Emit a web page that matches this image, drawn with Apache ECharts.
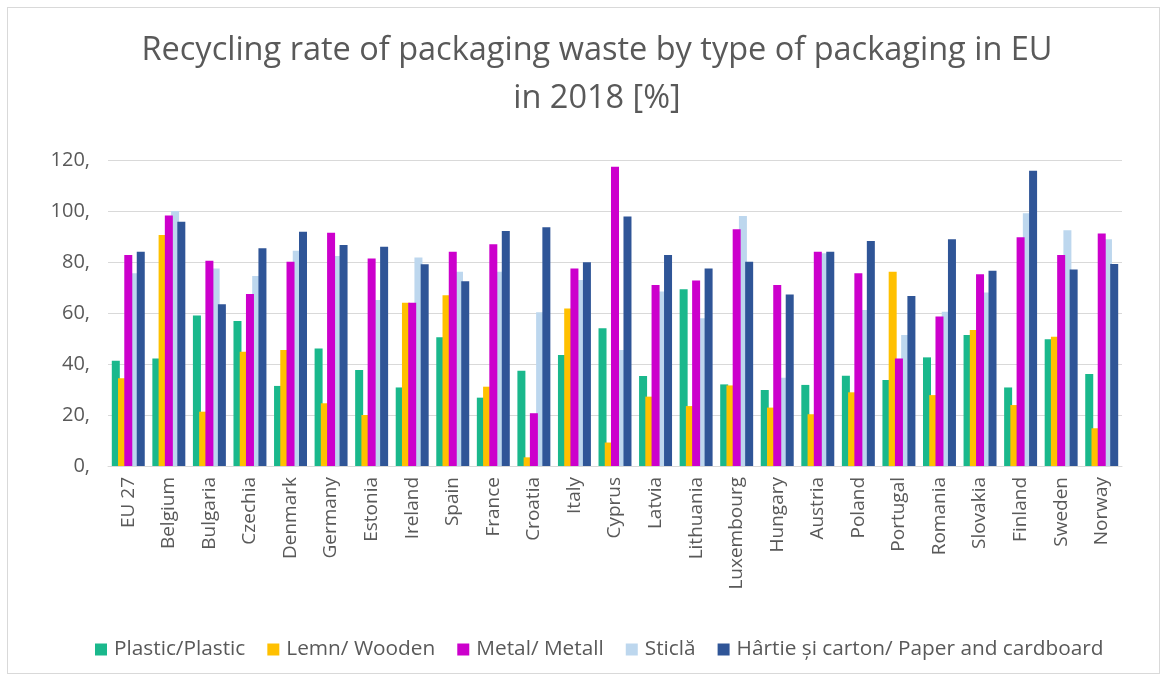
<!DOCTYPE html>
<html>
<head>
<meta charset="utf-8">
<script src="https://cdn.jsdelivr.net/npm/echarts@6/dist/echarts.min.js"></script>
<style>
  html, body { margin: 0; padding: 0; background: #ffffff; }
  #frame { position: absolute; left: 7px; top: 7px; width: 1153px; height: 667px; border: 1px solid #d9d9d9; box-sizing: border-box; }
  #chart { position: absolute; left: 0; top: 0; width: 1170px; height: 682px; }
</style>
</head>
<body>
<div id="frame"></div>
<div id="chart"></div>
<script>
// Countries on the category axis
const countries = ['EU 27', 'Belgium', 'Bulgaria', 'Czechia', 'Denmark', 'Germany', 'Estonia', 'Ireland',
  'Spain', 'France', 'Croatia', 'Italy', 'Cyprus', 'Latvia', 'Lithuania', 'Luxembourg', 'Hungary',
  'Austria', 'Poland', 'Portugal', 'Romania', 'Slovakia', 'Finland', 'Sweden', 'Norway'];

// Recycling rate (%) per packaging type
const plastic = [41.3, 42.2, 59.0, 56.9, 31.4, 46.1, 37.6, 30.8, 50.5, 26.8, 37.4, 43.5, 54.0, 35.3, 69.3, 32.0, 29.8, 31.8, 35.4, 33.7, 42.6, 51.4, 30.8, 49.7, 36.1];
const wooden = [34.4, 90.6, 21.3, 44.8, 45.5, 24.6, 20.0, 64.0, 67.0, 31.1, 3.4, 61.8, 9.2, 27.2, 23.5, 31.6, 22.9, 20.3, 28.9, 76.2, 27.8, 53.3, 23.9, 50.7, 14.8];
const metal = [82.7, 98.2, 80.5, 67.5, 80.1, 91.5, 81.4, 64.0, 84.0, 87.0, 20.7, 77.5, 117.4, 71.0, 72.7, 92.8, 71.0, 84.0, 75.6, 42.2, 58.6, 75.2, 89.7, 82.7, 91.2];
const glass = [75.6, 100.0, 77.5, 74.5, 84.4, 82.4, 65.1, 81.8, 76.2, 76.2, 60.3, 72.9, 45.5, 68.4, 57.9, 98.0, 34.6, 83.4, 61.2, 51.4, 60.5, 68.0, 99.1, 92.5, 88.9];
const paper = [84.0, 95.8, 63.4, 85.4, 91.9, 86.7, 86.0, 79.1, 72.5, 92.2, 93.6, 79.9, 97.8, 82.7, 77.5, 80.1, 67.3, 84.0, 88.2, 66.7, 88.9, 76.6, 115.8, 77.1, 79.2];

const yTicks = { min: 0, max: 120, step: 20 };

const seriesDefs = [
  { name: 'Plastic/Plastic', data: plastic, color: '#1ab88c', z: 3 },
  { name: 'Lemn/ Wooden', data: wooden, color: '#ffc000', z: 3 },
  { name: 'Metal/ Metall', data: metal, color: '#cc00cc', z: 3 },
  { name: 'Sticlă', data: glass, color: '#bdd7ee', z: 2 },
  { name: 'Hârtie și carton/ Paper and cardboard', data: paper, color: '#2f5597', z: 3 }
];

const chart = echarts.init(document.getElementById('chart'), null, { renderer: 'canvas' });

chart.setOption({
  animation: false,
  backgroundColor: 'transparent',
  textStyle: { fontFamily: 'Open Sans' },
  title: {
    text: 'Recycling rate of packaging waste by type of packaging in EU\nin 2018 [%]',
    left: 592,
    top: 22,
    textAlign: 'center',
    textStyle: { fontFamily: 'Open Sans', fontSize: 32.5, fontWeight: 'normal', color: '#595959', lineHeight: 48 }
  },
  legend: {
    bottom: 17,
    left: 90,
    itemWidth: 12,
    itemHeight: 12,
    itemGap: 22,
    icon: 'rect',
    textStyle: { fontFamily: 'Open Sans', fontSize: 20.8, color: '#595959', padding: [0, 0, 0, 2] },
    data: seriesDefs.map(s => s.name)
  },
  grid: { left: 108, right: 48, top: 160, bottom: 216, containLabel: false },
  xAxis: {
    type: 'category',
    data: countries,
    axisLine: { show: true, lineStyle: { color: '#d9d9d9' } },
    axisTick: { show: false },
    axisLabel: { rotate: 90, fontSize: 19, color: '#595959', margin: 11, interval: 0 }
  },
  yAxis: {
    type: 'value',
    min: yTicks.min,
    max: yTicks.max,
    interval: yTicks.step,
    axisLine: { show: false },
    axisTick: { show: false },
    axisLabel: { fontSize: 20, color: '#595959', margin: 18, formatter: v => v + ',' },
    splitLine: { lineStyle: { color: '#d9d9d9', width: 1 } }
  },
  series: seriesDefs.map(s => ({
    name: s.name,
    type: 'bar',
    data: s.data,
    barWidth: 8,
    barGap: '-22%',
    z: s.z,
    itemStyle: { color: s.color }
  }))
});
</script>
</body>
</html>
